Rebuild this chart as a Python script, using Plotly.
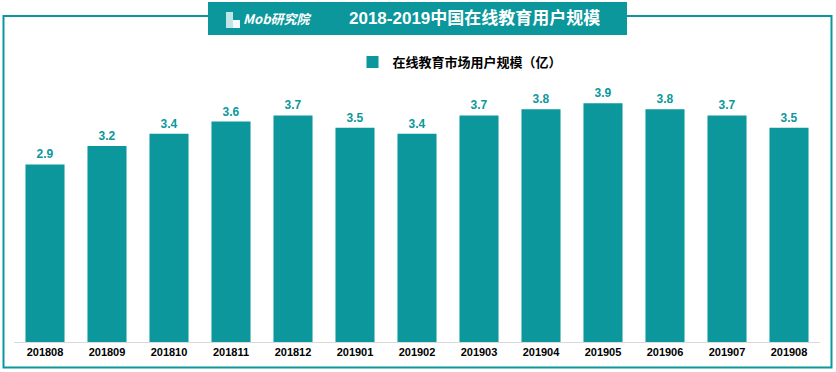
import plotly.graph_objects as go

months = ["201808", "201809", "201810", "201811", "201812", "201901", "201902",
          "201903", "201904", "201905", "201906", "201907", "201908"]
users = [2.9, 3.2, 3.4, 3.6, 3.7, 3.5, 3.4, 3.7, 3.8, 3.9, 3.8, 3.7, 3.5]
series_name = "在线教育市场用户规模（亿）"
title_text = "2018-2019中国在线教育用户规模"
logo_text = "Mob研究院"

W, H = 836, 372
TEAL = "#0B979B"
CJK = "Noto Sans CJK SC, Arial, sans-serif"

def px(x):
    return x / W

def py(y):
    return 1 - y / H

fig = go.Figure()
fig.add_trace(go.Bar(
    x=months, y=users, name=series_name,
    marker=dict(color=TEAL, line=dict(width=0)),
    text=[f"{v:.1f}" for v in users], textposition="outside",
    textfont=dict(family="Arial, sans-serif", size=12, color=TEAL, weight="bold"),
    cliponaxis=False,
))

fig.update_layout(
    width=W, height=H,
    margin=dict(l=0, r=0, t=0, b=0),
    paper_bgcolor="white", plot_bgcolor="rgba(0,0,0,0)",
    bargap=0.37,
    showlegend=True,
    legend=dict(orientation="h", x=px(460), xanchor="center", y=py(62), yanchor="middle",
                font=dict(family=CJK, size=13, color="black", weight="bold"),
                itemwidth=30, bgcolor="rgba(0,0,0,0)"),
    xaxis=dict(domain=[px(14), px(820)], type="category",
               showline=True, linecolor="#D9D9D9", linewidth=1,
               ticks="", showgrid=False,
               tickfont=dict(family="Arial, sans-serif", size=11, color="black", weight="bold")),
    yaxis=dict(domain=[py(342), py(75)], range=[0, 4.36], visible=False, showgrid=False),
    shapes=[
        dict(type="rect", xref="paper", yref="paper", x0=px(3.5), x1=px(831.5),
             y0=py(367.5), y1=py(16), line=dict(color=TEAL, width=2), layer="below"),
        dict(type="rect", xref="paper", yref="paper", x0=px(208), x1=px(627),
             y0=py(35), y1=py(2), fillcolor=TEAL, line=dict(width=0)),
        # building icon in logo
        dict(type="rect", xref="paper", yref="paper", x0=px(226), x1=px(233),
             y0=py(28), y1=py(12), fillcolor="rgba(255,255,255,0.75)", line=dict(width=0)),
        dict(type="rect", xref="paper", yref="paper", x0=px(233), x1=px(240),
             y0=py(28), y1=py(20), fillcolor="rgba(255,255,255,0.95)", line=dict(width=0)),
    ],
    annotations=[
        dict(text="<i>" + logo_text + "</i>", xref="paper", yref="paper", x=px(241), y=py(19),
             xanchor="left", yanchor="middle", showarrow=False,
             font=dict(family=CJK, size=13, color="white", weight="bold")),
        dict(text=title_text, xref="paper", yref="paper", x=px(474), y=py(18.5),
             xanchor="center", yanchor="middle", showarrow=False,
             font=dict(family="Arial, " + CJK, size=17, color="white", weight="bold")),
    ],
)

fig.write_html("out.html", config={"displayModeBar": False},
               post_script="document.body.style.margin='0';document.body.style.overflow='hidden';")
